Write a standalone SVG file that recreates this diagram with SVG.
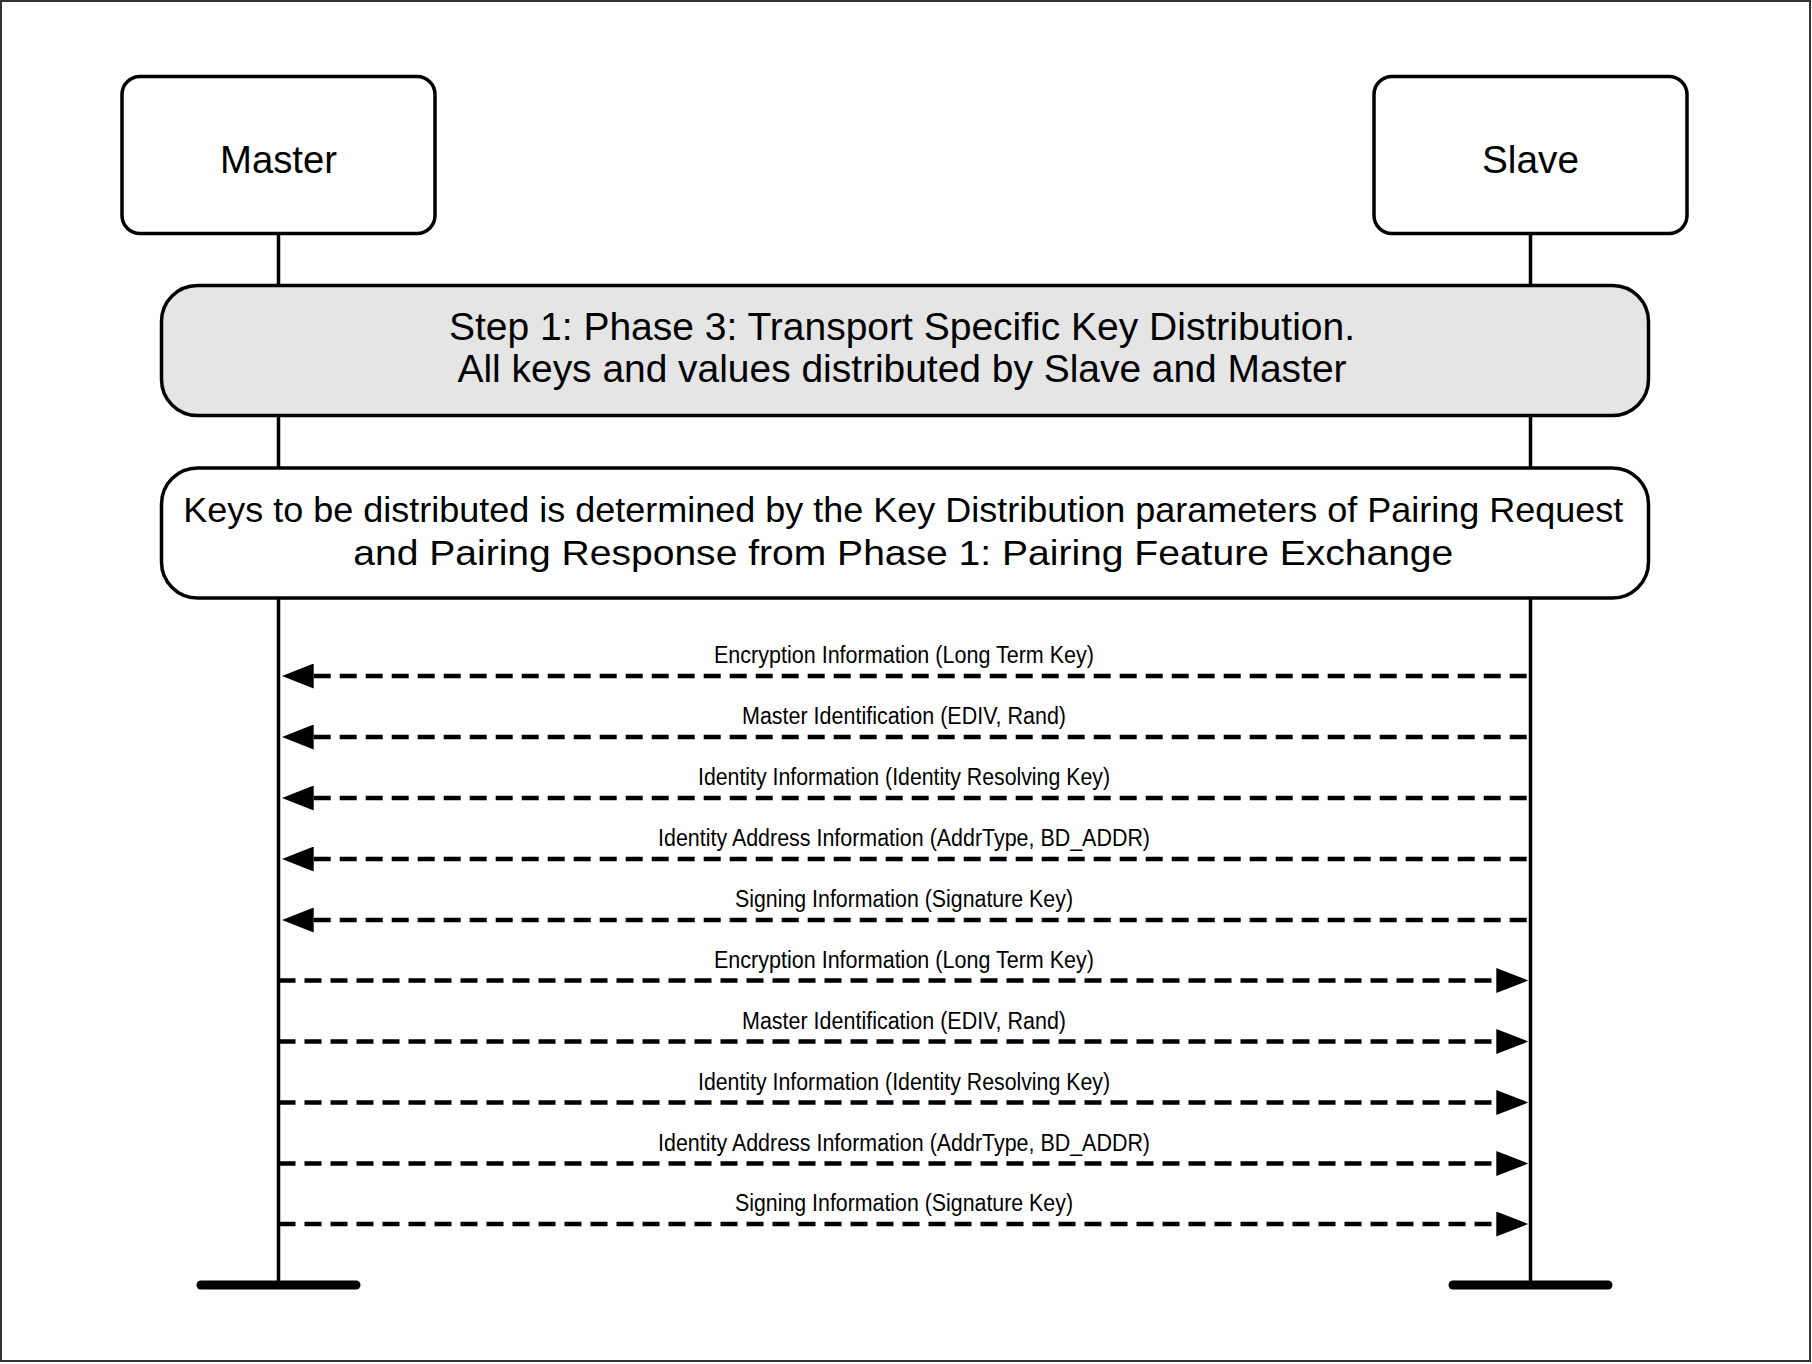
<svg xmlns="http://www.w3.org/2000/svg" width="1812" height="1364" viewBox="0 0 1812 1364">
<style>
text{font-family:"Liberation Sans",Arial,sans-serif;fill:#000;text-anchor:middle}
.box{fill:#fff;stroke:#000;stroke-width:3.5}
.gray{fill:#e5e5e5}
.life{stroke:#000;stroke-width:3.5;fill:none}
.bar{stroke:#000;stroke-width:9;stroke-linecap:round}
.msg{stroke:#000;stroke-width:4.5;stroke-dasharray:17 9;fill:none}
.lbl{font-size:23px}
.big{font-size:38px}
.mid{font-size:35px}
</style>
<defs>
<marker id="ah" markerUnits="userSpaceOnUse" markerWidth="32" markerHeight="25" refX="0" refY="12.5" orient="auto-start-reverse" viewBox="0 0 32 25">
<path d="M0,0 L32,12.5 L0,25 Z" fill="#000"/>
</marker>
</defs>
<rect x="1" y="1" width="1809" height="1360" fill="#fff" stroke="#333" stroke-width="2"/>
<g id="lifelines">
<line class="life" x1="278.5" y1="234" x2="278.5" y2="1285"/>
<line class="life" x1="1530.5" y1="234" x2="1530.5" y2="1285"/>
<line class="bar" x1="201" y1="1285" x2="356" y2="1285"/>
<line class="bar" x1="1453" y1="1285" x2="1608" y2="1285"/>
</g>
<g id="master">
<rect class="box" x="122" y="76.5" width="313" height="157" rx="18"/>
<text class="big" x="278.5" y="172.5" textLength="117" lengthAdjust="spacingAndGlyphs">Master</text>
</g>
<g id="slave">
<rect class="box" x="1374" y="76.5" width="313" height="157" rx="18"/>
<text class="big" x="1530.5" y="172.5" textLength="97" lengthAdjust="spacingAndGlyphs">Slave</text>
</g>
<g id="step">
<rect class="box gray" x="161.5" y="285.5" width="1487" height="130" rx="36"/>
<text class="big" x="902" y="340" textLength="906" lengthAdjust="spacingAndGlyphs">Step 1: Phase 3: Transport Specific Key Distribution.</text>
<text class="big" x="902" y="381.5" textLength="889" lengthAdjust="spacingAndGlyphs">All keys and values distributed by Slave and Master</text>
</g>
<g id="keys">
<rect class="box" x="161.5" y="468" width="1487" height="130" rx="36"/>
<text class="mid" x="903.3" y="521.5" textLength="1440" lengthAdjust="spacingAndGlyphs">Keys to be distributed is determined by the Key Distribution parameters of Pairing Request</text>
<text class="mid" x="903.3" y="565" textLength="1100" lengthAdjust="spacingAndGlyphs">and Pairing Response from Phase 1: Pairing Feature Exchange</text>
</g>
<g id="connectors">
<line class="msg" x1="313.7" y1="676" x2="1530.5" y2="676" marker-start="url(#ah)"/>
<line class="msg" x1="313.7" y1="737" x2="1530.5" y2="737" marker-start="url(#ah)"/>
<line class="msg" x1="313.7" y1="798" x2="1530.5" y2="798" marker-start="url(#ah)"/>
<line class="msg" x1="313.7" y1="859" x2="1530.5" y2="859" marker-start="url(#ah)"/>
<line class="msg" x1="313.7" y1="920" x2="1530.5" y2="920" marker-start="url(#ah)"/>
<line class="msg" x1="278.5" y1="980.5" x2="1496.3" y2="980.5" marker-end="url(#ah)"/>
<line class="msg" x1="278.5" y1="1041.5" x2="1496.3" y2="1041.5" marker-end="url(#ah)"/>
<line class="msg" x1="278.5" y1="1102.5" x2="1496.3" y2="1102.5" marker-end="url(#ah)"/>
<line class="msg" x1="278.5" y1="1163.5" x2="1496.3" y2="1163.5" marker-end="url(#ah)"/>
<line class="msg" x1="278.5" y1="1224" x2="1496.3" y2="1224" marker-end="url(#ah)"/>
<text class="lbl" x="904" y="663.3" textLength="380" lengthAdjust="spacingAndGlyphs">Encryption Information (Long Term Key)</text>
<text class="lbl" x="904" y="724.3" textLength="324" lengthAdjust="spacingAndGlyphs">Master Identification (EDIV, Rand)</text>
<text class="lbl" x="904" y="785.3" textLength="412" lengthAdjust="spacingAndGlyphs">Identity Information (Identity Resolving Key)</text>
<text class="lbl" x="904" y="846.3" textLength="492" lengthAdjust="spacingAndGlyphs">Identity Address Information (AddrType, BD_ADDR)</text>
<text class="lbl" x="904" y="907.3" textLength="338" lengthAdjust="spacingAndGlyphs">Signing Information (Signature Key)</text>
<text class="lbl" x="904" y="967.8" textLength="380" lengthAdjust="spacingAndGlyphs">Encryption Information (Long Term Key)</text>
<text class="lbl" x="904" y="1028.8" textLength="324" lengthAdjust="spacingAndGlyphs">Master Identification (EDIV, Rand)</text>
<text class="lbl" x="904" y="1089.8" textLength="412" lengthAdjust="spacingAndGlyphs">Identity Information (Identity Resolving Key)</text>
<text class="lbl" x="904" y="1150.8" textLength="492" lengthAdjust="spacingAndGlyphs">Identity Address Information (AddrType, BD_ADDR)</text>
<text class="lbl" x="904" y="1211.3" textLength="338" lengthAdjust="spacingAndGlyphs">Signing Information (Signature Key)</text>
</g>
</svg>
